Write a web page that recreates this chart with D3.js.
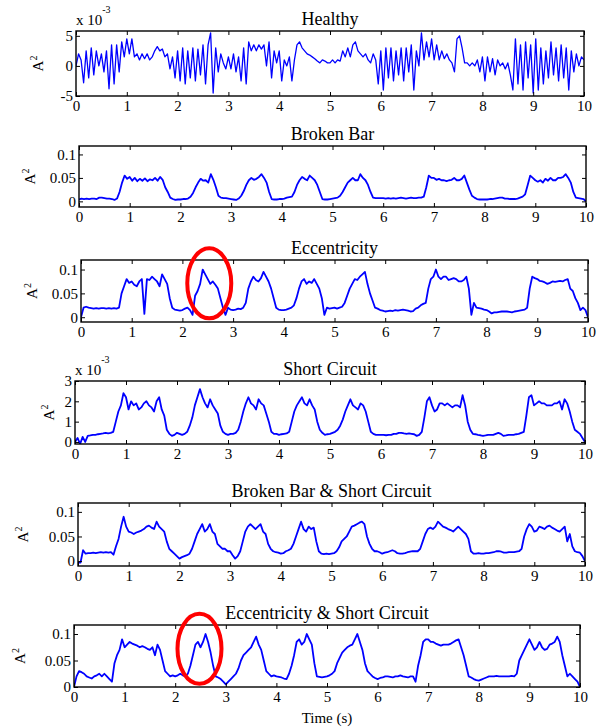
<!DOCTYPE html>
<html><head><meta charset="utf-8">
<script src="https://cdn.jsdelivr.net/npm/d3@7"></script>
<style>
body{margin:0;background:#fff;}
text{font-family:"Liberation Serif","Times New Roman",serif;fill:#000;}
</style></head>
<body><svg id="c" width="605" height="727"></svg>
<script>
// ---------- DATA ----------
const titles = ["Healthy","Broken Bar","Eccentricity","Short Circuit","Broken Bar & Short Circuit","Eccentricity & Short Circuit"];
const xTicks = [0,1,2,3,4,5,6,7,8,9,10];
const yTicksHealthy = [-5,0,5];
const yTicksShort = [0,1,2,3];
const yTicksFrac = [0,0.05,0.1];
const timeStep = 0.05; // s, sample spacing of the value arrays below

// Healthy (x 10^-3)
const healthy = [
0,2,1,-2.8,2.5,-2,3,-1.5,2.5,0,2,-1,2.5,-3.8,3.5,-3,3.5,-1,4,1.5,
4.5,2,4.5,1.5,2,1,2,1.2,2,1,1.5,2.5,3.2,2.5,2.8,1.5,2,-0.5,1.5,-2,
2.5,-2.5,3,-3,2.5,-2,3,-2.5,2.8,-1.5,3.5,-3,3.5,5.5,-4.5,3,-1,2,0.5,-0.5,
1.5,-0.5,2,-1,1.5,-2.5,3,-3,4,2.5,3.5,2.5,3.5,2.8,3.5,0,4,-2,2.5,0.5,
2.5,-2.5,1,0,1.5,-2.5,1,3.5,4,3,2.5,2,1.8,1.5,1.2,0.8,0.5,1,0.8,0.5,
0.5,1,0.5,1,0.8,2.5,1.5,3,1.5,3.5,4,2.5,2,1.5,2,1,0.5,2,1,-3,
2.5,-4,3,-2,3,-2.5,2.5,-1.5,3,-2.5,3,-1,3.5,-4,2.5,0,5.5,1,4,1.5,
4.5,1,3.5,1,2.5,1.2,2,1,0.5,-1,4.5,5,3,0.5,0.5,0,0.5,0,1,-1,
1.5,-2.5,1.5,-1,1.2,-1.5,1,0,0.5,-0.5,0.5,-1.5,-4,4.5,-3,3.5,-4,4,-2,3.5,
-4.5,4.5,-4,3,-3,2.5,-2,4,-1.5,3,-2.5,3.5,-2,3,-4,2.5,-1,2,0,1.5,
1];

const brokenBar = [
.004,.006,.005,.006,.005,.006,.006,.005,.008,.008,.007,.006,.006,.005,.003,.006,.02,.04,.055,.048,
.052,.044,.05,.043,.048,.044,.049,.043,.047,.045,.05,.044,.052,.046,.03,.02,.008,.005,.003,.004,
.004,.005,.005,.006,.01,.018,.03,.04,.048,.044,.045,.04,.058,.046,.03,.012,.008,.007,.007,.006,
.005,.004,.003,.006,.012,.022,.035,.045,.05,.046,.048,.052,.058,.05,.04,.02,.005,.004,.004,.005,
.005,.006,.008,.009,.01,.02,.035,.045,.052,.048,.045,.055,.05,.045,.035,.02,.005,.004,.004,.005,
.006,.007,.008,.012,.02,.03,.04,.045,.05,.045,.045,.058,.05,.045,.035,.02,.008,.007,.007,.007,
.007,.006,.007,.006,.007,.006,.007,.008,.007,.006,.007,.008,.007,.007,.008,.008,.01,.03,.055,.05,
.05,.046,.048,.045,.045,.043,.045,.046,.05,.045,.045,.048,.055,.04,.025,.012,.008,.005,.004,.004,
.004,.004,.005,.005,.006,.007,.008,.008,.006,.006,.005,.005,.005,.006,.008,.01,.015,.035,.055,.05,
.045,.042,.045,.04,.048,.044,.05,.045,.045,.05,.05,.052,.058,.05,.04,.02,.008,.007,.006,.005,
0];

const eccentricity = [
0,.02,.022,.02,.019,.018,.019,.018,.019,.019,.018,.019,.018,.019,.018,.02,.05,.065,.08,.072,
.075,.068,.065,.075,.08,.007,.08,.078,.085,.08,.075,.065,.09,.08,.07,.04,.02,.016,.015,.014,
.015,.018,.02,.015,.005,.045,.055,.07,.1,.09,.08,.07,.075,.068,.06,.04,.02,.005,.02,.016,
.015,.016,.018,.017,.02,.03,.06,.075,.085,.078,.075,.082,.095,.085,.075,.06,.04,.02,.016,.015,
.015,.016,.018,.02,.025,.04,.06,.075,.08,.07,.075,.072,.08,.07,.06,.04,.005,.02,.018,.019,
.02,.018,.02,.022,.03,.045,.06,.07,.08,.078,.085,.09,.095,.07,.05,.035,.02,.018,.015,.014,
.012,.013,.014,.013,.015,.014,.015,.016,.015,.014,.012,.013,.018,.02,.025,.028,.03,.06,.08,.085,
.1,.085,.08,.085,.085,.078,.08,.082,.08,.075,.075,.078,.085,.06,.005,.03,.02,.019,.018,.016,
.015,.012,.008,.01,.01,.011,.012,.012,.012,.011,.01,.012,.013,.014,.015,.016,.02,.06,.085,.082,
.08,.076,.075,.073,.07,.072,.075,.074,.075,.076,.075,.078,.08,.06,.055,.04,.03,.015,.02,.015,
0];

// Short Circuit (x 10^-3)
const shortCircuit = [
0,0.2,-0.1,0.25,0,0.3,0.32,0.35,0.35,0.38,0.4,0.42,0.45,0.42,0.45,0.5,1.0,1.5,1.8,2.4,
2.2,1.6,2.0,1.8,1.9,1.6,1.7,1.9,2.0,1.8,1.7,1.5,2.0,2.2,1.6,1.3,0.6,0.4,0.3,0.35,
0.45,0.4,0.35,0.4,0.5,0.8,1.2,1.8,2.2,2.6,2.2,1.9,1.7,2.1,1.8,1.6,1.4,0.8,0.5,0.4,
0.35,0.4,0.4,0.45,0.6,1.0,1.5,1.9,2.2,1.9,1.8,1.6,2.1,1.9,1.8,1.4,1.0,0.5,0.4,0.4,
0.35,0.38,0.4,0.42,0.5,1.0,1.5,1.8,2.0,2.2,1.9,1.8,2.1,1.8,1.6,1.0,0.6,0.45,0.35,0.38,
0.4,0.45,0.5,0.6,0.8,1.1,1.5,1.8,2.1,1.8,1.7,1.6,1.9,1.8,1.5,1.0,0.5,0.4,0.35,0.35,
0.35,0.35,0.33,0.35,0.35,0.4,0.4,0.45,0.45,0.42,0.4,0.42,0.4,0.38,0.3,0.35,0.5,1.2,2.0,2.2,
1.8,1.5,1.6,1.9,1.9,1.8,1.9,1.8,1.7,1.8,1.8,1.7,2.3,1.8,1.0,0.6,0.4,0.38,0.35,0.33,
0.3,0.32,0.35,0.35,0.35,0.4,0.45,0.4,0.3,0.32,0.35,0.35,0.35,0.38,0.4,0.45,0.5,1.3,2.2,2.3,
1.8,1.9,2.0,1.9,1.9,1.8,1.8,1.8,1.9,1.9,2.0,1.6,2.1,1.9,1.5,1.0,0.6,0.5,0.4,0.2,
0];

const brokenBarShort = [
-.003,-.003,.022,.015,.016,.016,.017,.016,.017,.018,.017,.018,.017,.018,.013,.03,.045,.07,.09,.07,
.06,.058,.055,.058,.06,.062,.065,.07,.072,.068,.065,.08,.07,.065,.06,.04,.025,.02,.015,.01,
.005,.008,.01,.012,.015,.025,.04,.055,.065,.075,.06,.065,.075,.06,.055,.035,.03,.025,.025,.02,
.02,.012,.005,.01,.02,.04,.06,.07,.075,.07,.065,.07,.075,.06,.055,.035,.025,.02,.018,.017,
.015,.016,.02,.022,.025,.035,.05,.065,.08,.065,.06,.07,.065,.068,.04,.02,.015,.014,.015,.014,
.015,.016,.02,.028,.04,.045,.05,.06,.07,.072,.075,.078,.08,.075,.05,.035,.025,.02,.02,.018,
.015,.017,.018,.02,.022,.02,.016,.015,.015,.016,.018,.019,.02,.02,.02,.025,.04,.055,.065,.068,
.065,.07,.08,.075,.07,.068,.065,.063,.06,.065,.07,.065,.06,.055,.045,.02,.015,.015,.016,.015,
.015,.016,.016,.017,.018,.02,.02,.019,.017,.017,.018,.018,.018,.019,.02,.025,.05,.065,.075,.07,
.06,.062,.07,.068,.065,.07,.072,.068,.065,.062,.06,.065,.07,.04,.055,.03,.02,.018,.017,.01,
0];

const eccentricityShort = [
0,.02,.03,.028,.025,.02,.018,.016,.02,.022,.025,.02,.025,.02,.015,.01,.045,.06,.07,.09,
.075,.08,.085,.082,.08,.078,.075,.077,.075,.072,.07,.075,.06,.08,.07,.05,.03,.025,.02,.022,
.02,.022,.025,.022,.02,.025,.04,.06,.08,.085,.075,.085,.1,.085,.065,.04,.02,.018,.015,.01,
.005,.01,.015,.02,.025,.035,.05,.06,.065,.07,.075,.085,.095,.08,.07,.05,.03,.025,.02,.022,
.02,.019,.018,.016,.015,.025,.04,.06,.085,.09,.08,.085,.1,.09,.08,.045,.02,.019,.018,.019,
.02,.022,.025,.03,.045,.055,.065,.07,.075,.078,.08,.09,.1,.085,.07,.045,.03,.025,.02,.017,
.015,.017,.018,.02,.02,.019,.018,.02,.02,.022,.02,.019,.018,.02,.02,.01,.04,.06,.085,.09,
.09,.085,.085,.082,.08,.078,.08,.08,.08,.082,.085,.088,.09,.075,.06,.04,.02,.018,.015,.013,
.012,.014,.016,.018,.02,.02,.02,.021,.02,.02,.02,.02,.02,.021,.02,.025,.05,.06,.07,.08,
.09,.08,.07,.075,.085,.075,.07,.072,.08,.082,.085,.095,.085,.06,.04,.02,.025,.02,.015,.01,
0];

// red ellipse annotations: [time (s), value] centres
const highlight3 = [2.53, 0.071];
const highlight6 = [2.48, 0.072];

// ---------- LAYOUT ----------
const panels = [
 {series:healthy, yDomain:[-5,5.8], yTicks:yTicksHealthy, left:76, right:584, top:31, bottom:96, ylab:38, exp:true, sw:1.3},
 {series:brokenBar, yDomain:[-0.012,0.118], yTicks:yTicksFrac, left:79, right:586, top:146, bottom:207, ylab:30, sw:1.8},
 {series:eccentricity, yDomain:[-0.01,0.12], yTicks:yTicksFrac, left:81, right:588, top:260, bottom:322, ylab:32, sw:1.8, ell:highlight3},
 {series:shortCircuit, yDomain:[-0.1,3], yTicks:yTicksShort, left:75, right:585, top:381, bottom:444, ylab:49, exp:true, sw:1.8},
 {series:brokenBarShort, yDomain:[-0.01,0.118], yTicks:yTicksFrac, left:78, right:585, top:503, bottom:566, ylab:23, sw:1.8},
 {series:eccentricityShort, yDomain:[0,0.117], yTicks:yTicksFrac, left:74, right:580, top:625, bottom:687, ylab:20, sw:1.8, ell:highlight6, xlabel:true}
];

const svg = d3.select("#c");
const fmt = v => String(v);
const FS = 15;

panels.forEach((p,i)=>{
  const x = d3.scaleLinear().domain([0,10]).range([p.left,p.right]);
  const y = d3.scaleLinear().domain(p.yDomain).range([p.bottom,p.top]);
  const g = svg.append("g");
  const cid = "clip"+i;
  g.append("clipPath").attr("id",cid).append("rect")
    .attr("x",p.left).attr("y",p.top).attr("width",p.right-p.left).attr("height",p.bottom-p.top);

  const line = d3.line().x((d,j)=>x(j*timeStep)).y(d=>y(d));
  g.append("path").datum(p.series).attr("clip-path",`url(#${cid})`)
    .attr("fill","none").attr("stroke","#0000ff").attr("stroke-width",p.sw)
    .attr("stroke-linejoin","round").attr("d",line);

  const ax = (gen, tr, vals, labels) => {
    const a = g.append("g").attr("transform",tr)
      .call(gen.tickValues(vals).tickSizeInner(-4).tickSizeOuter(0).tickPadding(3)
      .tickFormat(labels?fmt:()=>""));
    a.select(".domain").remove();
    a.selectAll("line").attr("stroke","#000").attr("stroke-width",1);
    a.selectAll("text").attr("font-family","Liberation Serif").attr("font-size",FS).attr("fill","#000");
    return a;
  };
  const xb = ax(d3.axisBottom(x), `translate(0,${p.bottom})`, xTicks, true);
  xb.selectAll("text").attr("dy","0.8em");
  ax(d3.axisTop(x), `translate(0,${p.top})`, xTicks, false);
  ax(d3.axisLeft(y), `translate(${p.left},0)`, p.yTicks, true);
  ax(d3.axisRight(y), `translate(${p.right},0)`, p.yTicks, false);

  g.append("rect").attr("x",p.left).attr("y",p.top).attr("width",p.right-p.left).attr("height",p.bottom-p.top)
    .attr("fill","none").attr("stroke","#000").attr("stroke-width",1.4);

  g.append("text").attr("x",(p.left+p.right)/2).attr("y",p.top-6).attr("text-anchor","middle")
    .attr("font-size",18).text(titles[i]);

  const yl = g.append("text").attr("transform",`translate(${p.ylab+5},${(p.top+p.bottom)/2}) rotate(-90)`)
    .attr("text-anchor","middle").attr("font-size",FS);
  yl.append("tspan").text("A");
  yl.append("tspan").attr("font-size",10).attr("dy",-6).text("2");

  if(p.exp){
    const t = g.append("text").attr("x",p.left).attr("y",p.top-6).attr("font-size",FS);
    t.append("tspan").text("x 10");
    t.append("tspan").attr("font-size",10).attr("dy",-12).text("-3");
  }
  if(p.ell){
    g.append("ellipse").attr("cx",x(p.ell[0])).attr("cy",y(p.ell[1])).attr("rx",22).attr("ry",35)
      .attr("fill","none").attr("stroke","#ff0000").attr("stroke-width",4);
  }
  if(p.xlabel){
    g.append("text").attr("x",(p.left+p.right)/2).attr("y",p.bottom+36).attr("text-anchor","middle")
      .attr("font-size",FS).text("Time (s)");
  }
});
</script></body></html>
